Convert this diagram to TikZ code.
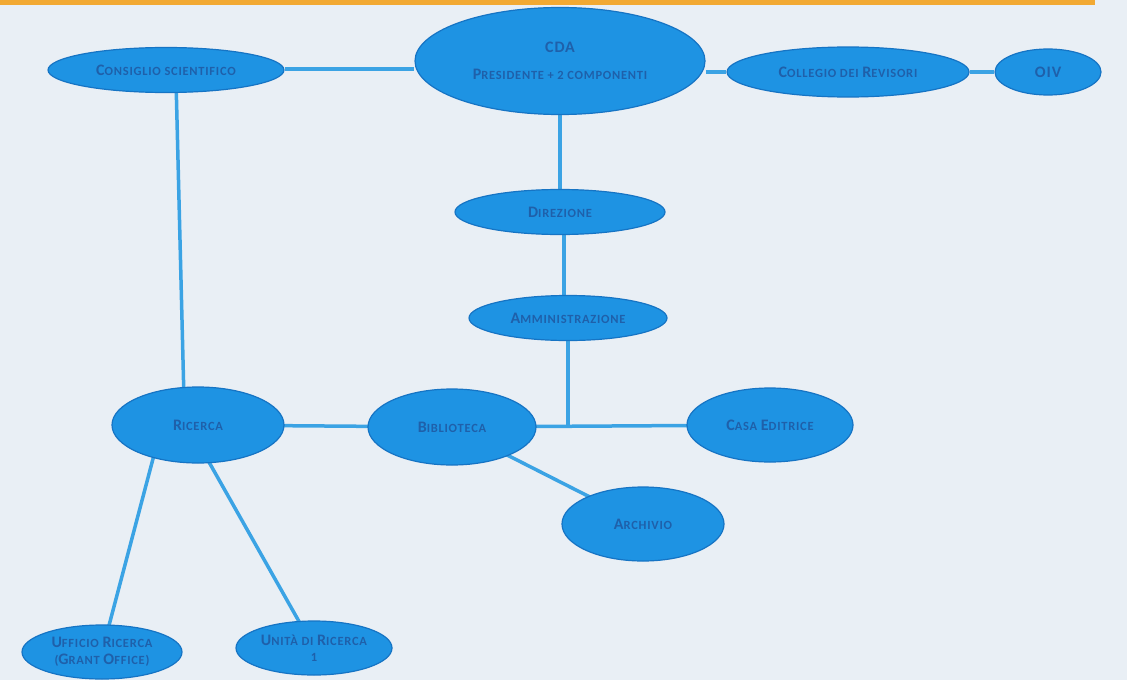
\documentclass[tikz,border=0pt]{standalone}
\usepackage{fontspec}
\setmainfont{Carlito}
\usetikzlibrary{shapes.geometric,backgrounds}
\definecolor{bg}{HTML}{E9EFF5}
\definecolor{bar}{HTML}{F2A933}
\definecolor{fillb}{HTML}{1E93E3}
\definecolor{edgeb}{HTML}{1674C4}
\definecolor{lineb}{HTML}{3BA3E4}
\definecolor{txtb}{HTML}{1F60AA}
\newcommand{\Ini}[1]{{\fontsize{16}{17}\selectfont #1}}
\tikzset{
  oval/.style={ellipse, fill=fillb, draw=edgeb, line width=1.2pt, inner sep=0pt,
    text=txtb, font=\fontsize{12.5}{13.5}\selectfont\bfseries\addfontfeatures{LetterSpace=6}, align=center},
  link/.style={draw=lineb, line width=3.5pt}
}
\begin{document}
\begin{tikzpicture}[x=1pt,y=-1pt]
\useasboundingbox (0,0) rectangle (1127,680);
\node[oval, minimum width=236pt, minimum height=45pt] (cs) at (166,70) {\Ini{C}ONSIGLIO SCIENTIFICO};
\node[oval, minimum width=290pt, minimum height=107pt] (cda) at (560,61) {\Ini{CDA}\\[14pt]\Ini{P}RESIDENTE + 2 COMPONENTI};
\node[oval, minimum width=242pt, minimum height=50pt] (cr) at (848,72) {\Ini{C}OLLEGIO DEI \Ini{R}EVISORI};
\node[oval, minimum width=106pt, minimum height=46pt] (oiv) at (1048,72) {\Ini{OIV}};
\node[oval, minimum width=210pt, minimum height=45pt] (dir) at (560,212) {\Ini{D}IREZIONE};
\node[oval, minimum width=198pt, minimum height=45pt] (amm) at (568,318) {\Ini{A}MMINISTRAZIONE};
\node[oval, minimum width=172pt, minimum height=76pt] (ric) at (198,425) {\Ini{R}ICERCA};
\node[oval, minimum width=168pt, minimum height=76pt] (bib) at (452,427) {\Ini{B}IBLIOTECA};
\node[oval, minimum width=166pt, minimum height=74pt] (ce) at (770,425) {\Ini{C}ASA \Ini{E}DITRICE};
\node[oval, minimum width=162pt, minimum height=74pt] (arc) at (643,524) {\Ini{A}RCHIVIO};
\node[oval, minimum width=160pt, minimum height=54pt] (uff) at (102,652) {\Ini{U}FFICIO \Ini{R}ICERCA\\[3pt](\Ini{G}RANT \Ini{O}FFICE)};
\node[oval, minimum width=156pt, minimum height=54pt] (uni) at (314,648) {\Ini{U}NITÀ DI \Ini{R}ICERCA\\[3pt]1};
\coordinate (j) at (568,427);
\begin{scope}[on background layer]
\fill[bg] (0,0) rectangle (1127,680);
\fill[bar] (0,0) rectangle (1095,5);
\draw[link] (cs.east |- 0,69) -- (cda.west |- 0,69);
\draw[link] (cda.east |- 0,72) -- (cr.west |- 0,72);
\draw[link] (cr) -- (oiv);
\draw[link] (560,100) -- (dir.north);
\draw[link] (564,225) -- (564,305);
\draw[link] (amm.center) -- (j);
\draw[link] (bib.center) -- (ce.center);
\draw[link] (ric.center) -- (bib.center);
\draw[link] (176,80) -- (184,400);
\draw[link] (bib.center) -- (arc.center);
\draw[link] (154,455) -- (uff.center);
\draw[link] (205,455) -- (uni.center);
\end{scope}
\end{tikzpicture}
\end{document}
